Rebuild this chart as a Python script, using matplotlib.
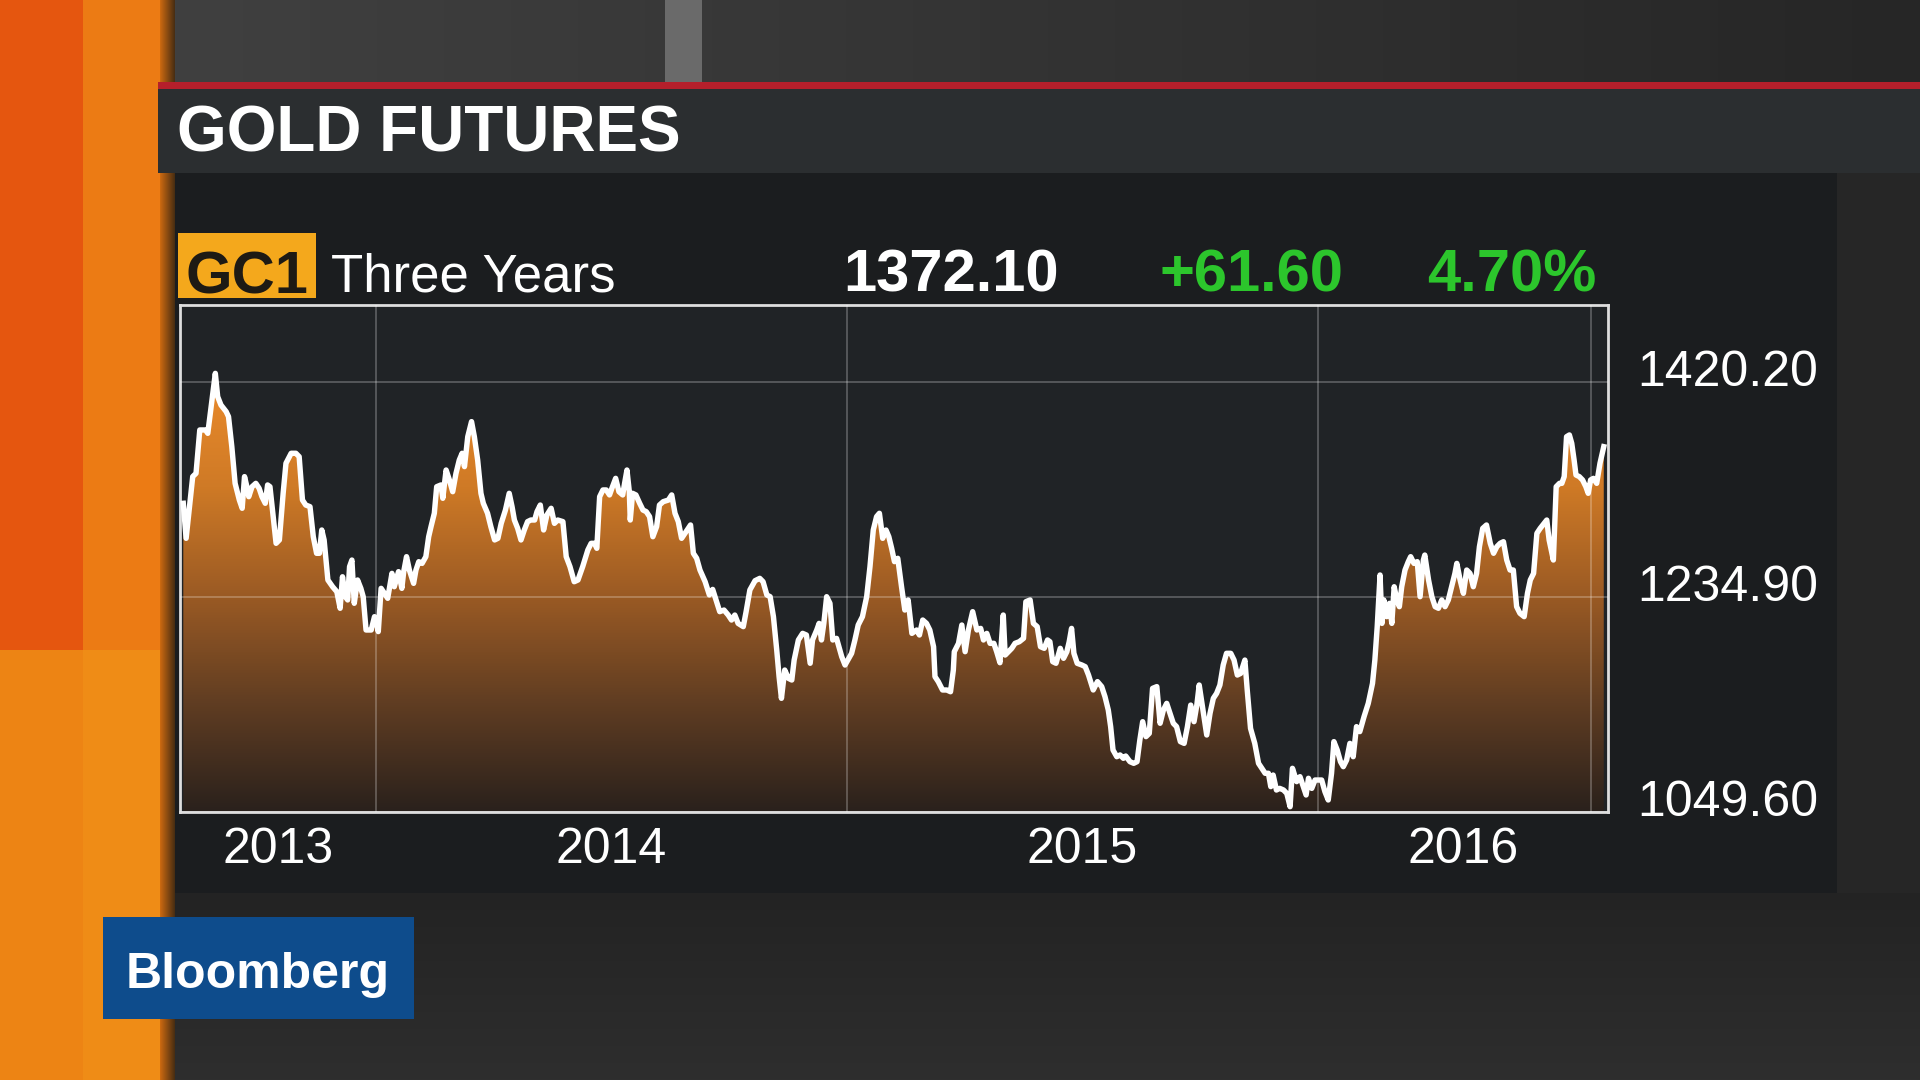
import numpy as np
import matplotlib
matplotlib.use('Agg')
import matplotlib.pyplot as plt
from matplotlib.colors import LinearSegmentedColormap, to_rgb
from matplotlib.patches import Rectangle, PathPatch
from matplotlib.transforms import ScaledTranslation

plt.rcParams['font.family'] = ['Liberation Sans', 'DejaVu Sans']

# GC1 gold futures, three years to Aug 2016 (decimal year, USD/oz)
years_2013 = [2013.591, 2013.597, 2013.611, 2013.618, 2013.626, 2013.638, 2013.643, 2013.652, 2013.659, 2013.664,
              2013.671, 2013.682, 2013.687, 2013.694, 2013.701, 2013.710, 2013.716, 2013.721, 2013.726, 2013.730,
              2013.737, 2013.745, 2013.752, 2013.758, 2013.765, 2013.770, 2013.775, 2013.781, 2013.788, 2013.795,
              2013.803, 2013.809, 2013.820, 2013.830, 2013.837, 2013.844, 2013.851, 2013.860, 2013.867, 2013.874,
              2013.880, 2013.885, 2013.890, 2013.898, 2013.908, 2013.917, 2013.924, 2013.929, 2013.935, 2013.940,
              2013.944, 2013.949, 2013.954, 2013.961, 2013.968, 2013.973, 2013.979, 2013.990, 2013.997]
prices_2013 = [1315.4, 1285.2, 1338.4, 1341.2, 1378.6, 1378.6, 1375.7, 1404.4, 1427.4, 1407.3,
               1400.1, 1394.4, 1390.1, 1364.2, 1332.6, 1318.2, 1311.1, 1338.4, 1329.7, 1321.1,
               1329.7, 1332.6, 1328.3, 1321.1, 1315.4, 1331.2, 1329.7, 1306.8, 1280.9, 1283.8,
               1324.0, 1349.9, 1358.5, 1358.5, 1355.6, 1318.2, 1313.9, 1312.5, 1286.6, 1272.3,
               1272.3, 1292.4, 1283.8, 1249.3, 1243.5, 1239.2, 1224.9, 1252.1, 1234.9, 1232.1,
               1260.8, 1266.5, 1229.2, 1249.3, 1242.1, 1234.9, 1206.2, 1206.2, 1217.7]

years_2014 = [2014.000, 2014.005, 2014.011, 2014.018, 2014.025, 2014.034, 2014.039, 2014.048, 2014.055, 2014.059,
              2014.065, 2014.071, 2014.080, 2014.085, 2014.091, 2014.098, 2014.106, 2014.112, 2014.117, 2014.124,
              2014.129, 2014.138, 2014.142, 2014.149, 2014.156, 2014.163, 2014.170, 2014.177, 2014.183, 2014.188,
              2014.195, 2014.203, 2014.209, 2014.216, 2014.223, 2014.228, 2014.237, 2014.244, 2014.252, 2014.259,
              2014.266, 2014.275, 2014.283, 2014.289, 2014.294, 2014.301, 2014.308, 2014.315, 2014.322, 2014.329,
              2014.337, 2014.342, 2014.349, 2014.356, 2014.363, 2014.372, 2014.379, 2014.386, 2014.397, 2014.404,
              2014.412, 2014.421, 2014.429, 2014.439, 2014.450, 2014.457, 2014.464, 2014.469, 2014.475, 2014.482,
              2014.489, 2014.496, 2014.501, 2014.509, 2014.516, 2014.524, 2014.528, 2014.533, 2014.538, 2014.540,
              2014.545, 2014.552, 2014.560, 2014.567, 2014.574, 2014.581, 2014.588,
              2014.596, 2014.602, 2014.610, 2014.621, 2014.628, 2014.635, 2014.642, 2014.649, 2014.656, 2014.663,
              2014.668, 2014.674, 2014.681, 2014.688, 2014.699, 2014.708, 2014.715, 2014.722, 2014.730, 2014.739,
              2014.748, 2014.755, 2014.762, 2014.769, 2014.780, 2014.786, 2014.794, 2014.805, 2014.815, 2014.822,
              2014.830, 2014.837, 2014.844, 2014.851, 2014.856, 2014.861, 2014.868, 2014.876, 2014.883, 2014.888,
              2014.897, 2014.906, 2014.914, 2014.922, 2014.927, 2014.936, 2014.941, 2014.946, 2014.951, 2014.957,
              2014.964, 2014.970, 2014.978, 2014.989, 2014.996]
prices_2014 = [1216.3, 1204.8, 1242.1, 1237.8, 1233.5, 1255.0, 1243.5, 1256.5, 1242.1, 1256.5,
               1269.4, 1257.9, 1246.4, 1257.9, 1265.1, 1263.6, 1269.4, 1286.6, 1295.3, 1306.8,
               1329.7, 1331.2, 1319.7, 1344.1, 1335.5, 1325.4, 1341.2, 1352.7, 1358.5, 1347.0,
               1372.8, 1385.8, 1372.8, 1352.7, 1324.0, 1315.4, 1306.8, 1295.3, 1283.8, 1285.2,
               1298.1, 1309.6, 1324.0, 1312.5, 1301.0, 1293.8, 1283.8, 1292.4, 1299.6, 1301.0,
               1301.0, 1308.2, 1313.9, 1292.4, 1305.3, 1311.1, 1298.1, 1301.0, 1299.6, 1269.4,
               1260.8, 1247.8, 1249.3, 1260.8, 1275.2, 1280.9, 1280.9, 1276.6, 1321.1, 1326.9,
               1326.9, 1322.6, 1328.3, 1336.9, 1325.4, 1322.6, 1332.6, 1344.1, 1325.4, 1301.0,
               1324.0, 1322.6, 1315.4, 1309.6, 1308.2, 1303.9, 1286.6,
               1295.3, 1313.9, 1316.8, 1318.2, 1322.6, 1306.8, 1299.6, 1285.2, 1289.5, 1293.8,
               1296.7, 1272.3, 1268.0, 1257.9, 1247.8, 1236.4, 1241.2, 1232.1, 1222.0, 1223.4,
               1219.1, 1214.8, 1219.1, 1211.9, 1209.1, 1222.0, 1240.7, 1248.7, 1250.7, 1247.8,
               1236.4, 1234.9, 1217.7, 1189.0, 1166.0, 1147.3, 1171.7, 1164.5, 1163.1, 1180.3,
               1197.6, 1203.3, 1201.9, 1177.5, 1197.6, 1206.2, 1211.9, 1197.6, 1211.9, 1234.9,
               1229.2, 1197.6, 1199.0, 1183.2, 1176.0]

years_2015 = [2015.002, 2015.010, 2015.017, 2015.024, 2015.033, 2015.042, 2015.049, 2015.056, 2015.063, 2015.069,
              2015.076, 2015.083, 2015.089, 2015.095, 2015.101, 2015.108, 2015.116, 2015.123, 2015.130, 2015.138,
              2015.148, 2015.154, 2015.161, 2015.169, 2015.176, 2015.184, 2015.187, 2015.194, 2015.203, 2015.212,
              2015.220, 2015.226, 2015.228, 2015.237, 2015.244, 2015.251, 2015.258, 2015.267, 2015.276, 2015.284,
              2015.290, 2015.297, 2015.304, 2015.312, 2015.318, 2015.325, 2015.332, 2015.336, 2015.343, 2015.350,
              2015.357, 2015.366, 2015.375, 2015.380, 2015.389, 2015.396, 2015.404, 2015.411, 2015.419, 2015.426,
              2015.431, 2015.437, 2015.444, 2015.453, 2015.460, 2015.467, 2015.472, 2015.477, 2015.482, 2015.489,
              2015.499, 2015.506, 2015.513, 2015.523, 2015.532,
              2015.541, 2015.548, 2015.555, 2015.560, 2015.565, 2015.573, 2015.580, 2015.587, 2015.592, 2015.601,
              2015.609, 2015.616, 2015.622, 2015.628, 2015.635, 2015.642, 2015.649, 2015.658, 2015.665, 2015.672,
              2015.679, 2015.686, 2015.693, 2015.700, 2015.708, 2015.716, 2015.723, 2015.730, 2015.737, 2015.743,
              2015.748, 2015.755, 2015.764, 2015.771, 2015.778, 2015.785, 2015.792, 2015.799, 2015.806, 2015.815,
              2015.822, 2015.829, 2015.836, 2015.845, 2015.850, 2015.857, 2015.866, 2015.874, 2015.881, 2015.888,
              2015.895, 2015.900, 2015.905, 2015.912, 2015.919, 2015.927, 2015.934, 2015.941, 2015.946, 2015.955,
              2015.962, 2015.969, 2015.975, 2015.980, 2015.987, 2015.994]
prices_2015 = [1180.3, 1186.1, 1197.6, 1210.5, 1217.7, 1234.9, 1260.8, 1292.4, 1303.9, 1306.8,
               1285.2, 1292.4, 1286.6, 1276.6, 1265.1, 1268.0, 1243.5, 1223.4, 1232.1, 1203.3,
               1206.2, 1201.9, 1214.8, 1211.9, 1206.2, 1191.8, 1166.0, 1161.7, 1154.5, 1154.5,
               1153.0, 1171.7, 1187.5, 1194.7, 1210.5, 1187.5, 1206.2, 1222.0, 1206.2, 1207.6,
               1197.6, 1203.3, 1194.7, 1194.7, 1187.5, 1178.0, 1219.1, 1184.6, 1187.5, 1190.4,
               1194.7, 1196.1, 1199.0, 1230.6, 1232.1, 1211.9, 1209.1, 1191.8, 1190.4, 1197.6,
               1196.1, 1178.9, 1177.5, 1190.4, 1181.8, 1187.5, 1196.1, 1207.6, 1186.1, 1177.5,
               1176.0, 1174.6, 1167.4, 1154.5, 1161.7,
               1157.4, 1148.7, 1137.2, 1122.9, 1102.8, 1097.0, 1098.5, 1095.6, 1097.6, 1092.7,
               1091.3, 1092.7, 1111.4, 1127.2, 1114.3, 1117.1, 1155.9, 1157.4, 1125.8, 1137.2,
               1143.0, 1134.4, 1125.8, 1122.9, 1110.0, 1108.5, 1122.9, 1141.5, 1127.2, 1141.5,
               1158.8, 1140.1, 1115.7, 1134.4, 1147.3, 1151.6, 1158.8, 1176.0, 1186.1, 1186.1,
               1180.3, 1167.4, 1168.8, 1180.3, 1154.5, 1121.4, 1108.5, 1091.3, 1087.0, 1082.7,
               1082.7, 1071.2, 1081.2, 1068.3, 1069.7, 1068.3, 1065.4, 1053.9, 1087.0, 1075.5,
               1079.8, 1071.2, 1064.0, 1078.4, 1069.7, 1076.9]

years_2016 = [2016.001, 2016.008, 2016.015, 2016.022, 2016.029, 2016.034, 2016.041, 2016.048, 2016.054, 2016.061,
              2016.068, 2016.075, 2016.082, 2016.089, 2016.098, 2016.107, 2016.116, 2016.121, 2016.126, 2016.132,
              2016.136, 2016.140, 2016.146, 2016.152, 2016.157, 2016.162, 2016.167, 2016.173, 2016.178, 2016.185,
              2016.192, 2016.197, 2016.204, 2016.211, 2016.217, 2016.224, 2016.227, 2016.235, 2016.242, 2016.249,
              2016.256, 2016.263, 2016.270, 2016.277, 2016.284, 2016.291, 2016.295, 2016.302, 2016.309, 2016.316,
              2016.323, 2016.330, 2016.337, 2016.343, 2016.350, 2016.358, 2016.366, 2016.373, 2016.380, 2016.387,
              2016.394, 2016.401, 2016.408, 2016.415, 2016.422, 2016.429, 2016.438, 2016.445, 2016.451, 2016.458,
              2016.465, 2016.472, 2016.486, 2016.491, 2016.500, 2016.506, 2016.513, 2016.518, 2016.523, 2016.528,
              2016.534, 2016.539, 2016.544, 2016.548, 2016.555, 2016.562, 2016.569, 2016.574, 2016.579, 2016.585,
              2016.592, 2016.599, 2016.607]
prices_2016 = [1076.9, 1076.9, 1066.8, 1059.7, 1082.7, 1110.0, 1102.8, 1092.7, 1088.4, 1094.1,
               1108.5, 1097.0, 1122.9, 1118.6, 1131.5, 1143.0, 1160.2, 1180.3, 1209.1, 1253.6,
               1211.9, 1232.1, 1217.7, 1229.2, 1211.9, 1243.5, 1233.5, 1226.3, 1243.5, 1257.9,
               1265.1, 1269.4, 1263.6, 1265.1, 1234.9, 1266.5, 1270.8, 1249.3, 1234.9, 1226.3,
               1224.9, 1232.1, 1226.3, 1232.1, 1243.5, 1255.0, 1263.6, 1249.3, 1237.8, 1257.9,
               1255.0, 1243.5, 1255.0, 1278.0, 1293.8, 1296.7, 1280.9, 1272.3, 1278.0, 1280.9,
               1282.3, 1266.5, 1257.9, 1257.9, 1226.3, 1220.6, 1217.7, 1237.8, 1249.3, 1255.0,
               1289.5, 1293.8, 1301.0, 1283.8, 1266.5, 1329.7, 1332.6, 1332.6, 1338.4, 1372.8,
               1374.3, 1367.1, 1352.7, 1339.8, 1338.4, 1335.5, 1329.7, 1324.0, 1335.5, 1336.9,
               1332.6, 1349.9, 1364.2]

ticker = 'GC1'
period = 'Three Years'
last_price = 1372.10
net_change = 61.60
pct_change = 4.70

y_ticks = [1049.60, 1234.90, 1420.20]
x_grid = [2014, 2015, 2016, 2016.58]
year_labels = ['2013', '2014', '2015', '2016']
x_range = (2013.584, 2016.616)
y_range = (1049.60, 1486.3)

years = years_2013 + years_2014 + years_2015 + years_2016
prices = prices_2013 + prices_2014 + prices_2015 + prices_2016

W, H = 1920, 1080
fig = plt.figure(figsize=(19.2, 10.8), dpi=100)
fig.patch.set_facecolor('#2c2c2c')

# ---- studio background, drawn in pixel space ----
img = np.zeros((H, W, 3))
img[:, :] = to_rgb('#2c2c2c')
# top strip above the header
top = np.linspace(0, 1, W - 175)[None, :, None]
img[0:82, 175:] = (1 - top) * np.array(to_rgb('#404040')) + top * np.array(to_rgb('#262626'))
img[0:82, 665:702] = to_rgb('#6a6a6a')
# left orange wall
img[:650, 0:83] = to_rgb('#e5560f')
img[:650, 83:160] = to_rgb('#ec7b14')
img[650:, 0:160] = to_rgb('#ef8c16')
img[650:, 0:83] = to_rgb('#ed8414')
shade = np.linspace(0, 1, 15)[None, :, None]
img[:, 160:175] = (1 - shade) * np.array(to_rgb('#c86810')) + shade * np.array(to_rgb('#4a2e12'))
# red rule and header bar
img[82:89, 158:] = to_rgb('#b51f2b')
img[89:173, 158:] = to_rgb('#2b2e30')
# chart panel, right gutter and floor
img[173:893, 175:1837] = to_rgb('#1b1d1f')
img[173:893, 1837:] = to_rgb('#262626')
floor = np.linspace(0, 1, H - 893)[:, None, None]
img[893:, 175:] = (1 - floor) * np.array(to_rgb('#232323')) + floor * np.array(to_rgb('#2e2e2e'))

bg = fig.add_axes([0, 0, 1, 1])
bg.imshow(img, extent=(0, W, H, 0), aspect='auto', interpolation='bilinear')
bg.set_xlim(0, W)
bg.set_ylim(H, 0)
bg.axis('off')

bg.text(177, 152, 'GOLD FUTURES', color='white', fontsize=46, fontweight='bold', va='baseline')

bg.add_patch(Rectangle((178, 233), 138, 65, facecolor='#f4a81c', edgecolor='none'))
bg.text(247, 293, ticker, color='#1e1a14', fontsize=43, fontweight='bold', ha='center', va='baseline')
bg.text(331, 291, period, color='white', fontsize=38, va='baseline')
bg.text(1059, 291, f'{last_price:.2f}', color='white', fontsize=43, fontweight='bold', ha='right', va='baseline')
bg.text(1343, 291, f'+{net_change:.2f}', color='#2cc62c', fontsize=43, fontweight='bold', ha='right', va='baseline')
bg.text(1597, 291, f'{pct_change:.2f}%', color='#2cc62c', fontsize=43, fontweight='bold', ha='right', va='baseline')

bg.add_patch(Rectangle((103, 917), 311, 102, facecolor='#0e4c8c', edgecolor='none'))
bg.text(258, 988, 'Bloomberg', color='white', fontsize=36, fontweight='bold', ha='center', va='baseline')

# ---- price chart ----
ax = fig.add_axes([180 / W, (H - 811.7) / H, 1428 / W, 506.7 / H])
ax.set_facecolor('#202326')
ax.set_xlim(*x_range)
ax.set_ylim(*y_range)

# orange-to-brown fill that fades with price level
span = y_range[1] - y_range[0]
stops = [(1049.6, '#2a211c'), (1140, '#5e3c22'), (1234.9, '#9a5a24'),
         (1330, '#cf7a26'), (1430, '#ec8c2c'), (1486.3, '#f09434')]
cmap = LinearSegmentedColormap.from_list(
    'gold', [((p - y_range[0]) / span, c) for p, c in stops])
grad = np.linspace(0, 1, 256).reshape(-1, 1)
im = ax.imshow(grad, extent=(x_range[0], x_range[1], y_range[0], y_range[1]),
               origin='lower', aspect='auto', cmap=cmap, zorder=1.8)
area = ax.fill_between(years, prices, y_range[0], facecolor='none', edgecolor='none')
clip = PathPatch(area.get_paths()[0], transform=ax.transData, facecolor='none', edgecolor='none')
ax.add_patch(clip)
im.set_clip_path(clip)

ax.plot(years, prices, color='white', lw=3.9, zorder=3)

ax.set_axisbelow(False)
ax.grid(True, color='white', alpha=0.28, lw=1.2)

# year boundaries as gridlines, year names centred in the visible span
centers = []
for lab in year_labels:
    y0 = max(int(lab), x_range[0])
    y1 = min(int(lab) + 1, x_range[1])
    centers.append((y0 + y1) / 2)
ax.set_xticks(x_grid)
ax.set_xticklabels([])
ax.set_xticks(centers, labels=year_labels, minor=True)
ax.tick_params(axis='x', which='both', length=0)
ax.tick_params(axis='x', which='minor', labelsize=36, labelcolor='white', pad=11)

ax.yaxis.tick_right()
ax.set_yticks(y_ticks, labels=[f'{v:.2f}' for v in y_ticks])
ax.tick_params(axis='y', length=0, pad=21, labelsize=36, labelcolor='white')
nudge = ScaledTranslation(0, -0.04, fig.dpi_scale_trans)
for t in ax.get_yticklabels():
    t.set_va('baseline')
    t.set_transform(t.get_transform() + nudge)

for s in ax.spines.values():
    s.set_color('#dedede')
    s.set_linewidth(2)

fig.savefig('out.png', dpi=100, facecolor=fig.get_facecolor())
